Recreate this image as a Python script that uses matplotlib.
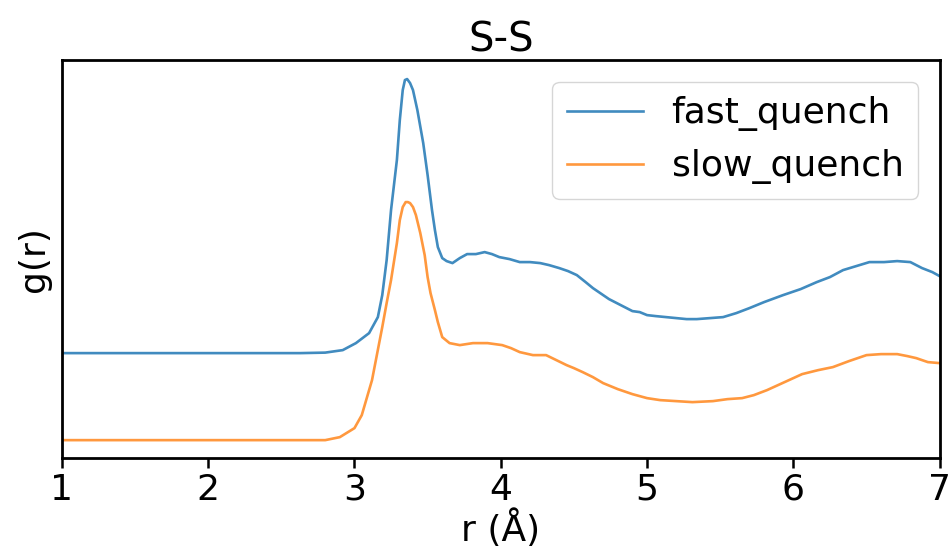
"""S-S radial distribution function, fast vs slow quench."""
import matplotlib
matplotlib.use("Agg")
import matplotlib.pyplot as plt

# fast quench g(r), already shifted up for display
r_fast = [1.0, 2.0, 2.63, 2.80, 2.92, 3.01, 3.10, 3.16, 3.19, 3.22, 3.25, 3.29,
          3.31, 3.33, 3.345, 3.36, 3.38, 3.40, 3.43, 3.47, 3.50, 3.53, 3.55,
          3.57, 3.60, 3.63, 3.67, 3.72, 3.77, 3.83, 3.89, 3.94, 3.99, 4.06,
          4.13, 4.20, 4.27, 4.33, 4.40, 4.46, 4.52, 4.58, 4.63, 4.69, 4.74,
          4.82, 4.90, 4.95, 5.00, 5.06, 5.13, 5.20, 5.27, 5.34, 5.43, 5.52,
          5.61, 5.70, 5.80, 5.93, 6.05, 6.16, 6.25, 6.34, 6.43, 6.52, 6.62,
          6.71, 6.80, 6.88, 6.95, 7.0]
g_fast = [0.87, 0.87, 0.87, 0.875, 0.90, 0.97, 1.07, 1.23, 1.45, 1.80, 2.30, 2.80,
          3.20, 3.50, 3.60, 3.61, 3.57, 3.50, 3.30, 2.97, 2.65, 2.30, 2.10,
          1.93, 1.82, 1.79, 1.77, 1.82, 1.86, 1.86, 1.88, 1.86, 1.83, 1.81,
          1.78, 1.78, 1.77, 1.75, 1.72, 1.69, 1.65, 1.58, 1.52, 1.46, 1.41,
          1.35, 1.29, 1.28, 1.25, 1.24, 1.23, 1.22, 1.21, 1.21, 1.22, 1.23,
          1.27, 1.32, 1.38, 1.45, 1.51, 1.58, 1.63, 1.70, 1.74, 1.78, 1.78,
          1.79, 1.78, 1.72, 1.68, 1.64]

# slow quench g(r)
r_slow = [1.0, 2.0, 2.80, 2.90, 3.00, 3.05, 3.12, 3.19, 3.22, 3.25, 3.29, 3.31,
          3.33, 3.35, 3.365, 3.38, 3.40, 3.42, 3.45, 3.48, 3.50, 3.52, 3.55,
          3.57, 3.60, 3.65, 3.72, 3.81, 3.91, 4.01, 4.07, 4.13, 4.22, 4.31,
          4.38, 4.45, 4.50, 4.56, 4.63, 4.70, 4.80, 4.90, 5.00, 5.09, 5.20,
          5.31, 5.45, 5.55, 5.65, 5.73, 5.82, 5.94, 6.06, 6.17, 6.27, 6.38,
          6.50, 6.60, 6.71, 6.78, 6.84, 6.92, 7.0]
g_slow = [0.0, 0.0, 0.0, 0.03, 0.12, 0.25, 0.60, 1.13, 1.37, 1.60, 1.97, 2.20,
          2.33, 2.38, 2.38, 2.37, 2.33, 2.25, 2.07, 1.85, 1.63, 1.47, 1.30,
          1.18, 1.03, 0.97, 0.95, 0.97, 0.97, 0.95, 0.92, 0.88, 0.85, 0.85,
          0.80, 0.75, 0.72, 0.68, 0.63, 0.57, 0.51, 0.46, 0.42, 0.40, 0.39,
          0.38, 0.39, 0.41, 0.42, 0.45, 0.50, 0.58, 0.66, 0.70, 0.73, 0.79,
          0.85, 0.86, 0.86, 0.84, 0.82, 0.78, 0.77]

fig = plt.figure(figsize=(9.52, 5.56), dpi=100)
ax = fig.add_axes([0.065, 0.176, 0.922, 0.716])
ax.plot(r_fast, g_fast, color="#1f77b4", alpha=0.85, linewidth=1.9, label="fast_quench")
ax.plot(r_slow, g_slow, color="#ff7f0e", alpha=0.8, linewidth=1.9, label="slow_quench")
ax.set_xlim(1, 7)
ax.set_ylim(-0.18, 3.80)
ax.set_yticks([])
ax.tick_params(axis="x", labelsize=26, width=1.8, length=7)
for s in ax.spines.values():
    s.set_linewidth(2.0)
ax.set_xlabel("r (\u00c5)", fontsize=26, labelpad=2)
ax.set_ylabel("g(r)", fontsize=26, labelpad=8)
ax.set_title("S-S", fontsize=29, pad=6)
ax.legend(fontsize=26, loc="upper right", handlelength=2.1, borderaxespad=0.6)
fig.savefig("out.png", dpi=100)
